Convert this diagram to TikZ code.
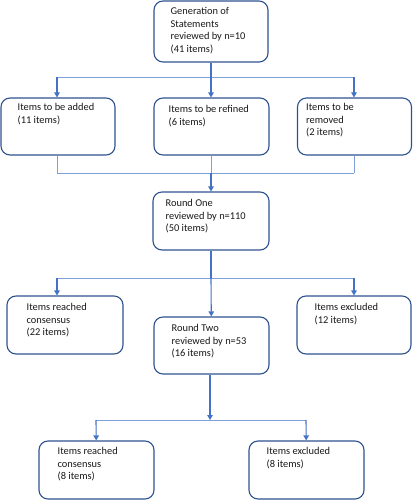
\documentclass[tikz,border=0pt]{standalone}
\usepackage{fontspec}
\setmainfont{Carlito}
\usetikzlibrary{arrows.meta,calc}
\definecolor{boxblue}{HTML}{2F528F}
\definecolor{arrblue}{HTML}{4472C4}
\definecolor{thinblue}{HTML}{7F9FD8}
\tikzset{
  box/.style={draw=boxblue, line width=1.1pt, rounded corners=9pt, fill=white, inner sep=0pt},
  txt/.style={anchor=north west, inner sep=0pt, align=left, font=\fontsize{10.4pt}{12.8pt}\selectfont, text=black!90},
  arr/.style={draw=arrblue, line width=1.1pt, -{Triangle[width=5.5pt,length=5pt]}},
  thick line/.style={draw=arrblue, line width=1.1pt},
  thin line/.style={draw=thinblue, line width=0.6pt}
}
\begin{document}
\begin{tikzpicture}[x=1pt,y=-1pt]
\useasboundingbox (0,0) rectangle (413,500);
% boxes
\node[box, minimum width=114pt, minimum height=61pt] (top) at (211,31.5) {};
\node[box, minimum width=114pt, minimum height=57pt] (b1) at (58,126.5) {};
\node[box, minimum width=115pt, minimum height=57pt] (b2) at (211.5,126.5) {};
\node[box, minimum width=114pt, minimum height=57pt] (b3) at (354.5,126.5) {};
\node[box, minimum width=116pt, minimum height=58pt] (r1) at (211,221) {};
\node[box, minimum width=116pt, minimum height=58pt] (c1) at (65,325) {};
\node[box, minimum width=115pt, minimum height=57pt] (r2) at (211.5,345.5) {};
\node[box, minimum width=114pt, minimum height=58pt] (e1) at (354,325) {};
\node[box, minimum width=115pt, minimum height=58pt] (c2) at (96.5,470) {};
\node[box, minimum width=115pt, minimum height=58pt] (e2) at (306.5,470) {};
% texts
\node[txt] (ttop) at ($(top.north west)+(17,6.5)$) {Generation of\\Statements\\reviewed by n=10\\(41 items)};
\node[txt] (tb1) at ($(b1.north west)+(17,5.5)$) {Items to be added\\(11 items)};
\node[txt] (tb2) at ($(b2.north west)+(15,7.5)$) {Items to be refined\\(6 items)};
\node[txt] (tb3) at ($(b3.north west)+(9,5.5)$) {Items to be\\removed\\(2 items)};
\node[txt] (tr1) at ($(r1.north west)+(13,7.5)$) {Round One\\reviewed by n=110\\(50 items)};
\node[txt] (tc1) at ($(c1.north west)+(20,7.5)$) {Items reached\\consensus\\(22 items)};
\node[txt] (tr2) at ($(r2.north west)+(18,7.5)$) {Round Two\\reviewed by n=53\\(16 items)};
\node[txt] (te1) at ($(e1.north west)+(18,7.5)$) {Items excluded\\(12 items)};
\node[txt] (tc2) at ($(c2.north west)+(19,6.5)$) {Items reached\\consensus\\(8 items)};
\node[txt] (te2) at ($(e2.north west)+(18,6.5)$) {Items excluded\\(8 items)};
% junctions
\coordinate (j1) at (211,77);
\coordinate (j1l) at (57,77);
\coordinate (j1r) at (354,77);
\coordinate (j2) at (211,173);
\coordinate (j2l) at (57,173);
\coordinate (j2r) at (354,173);
\coordinate (j3) at (211,278);
\coordinate (j3l) at (57,278);
\coordinate (j3r) at (354,278);
\coordinate (j4) at (210,420);
\coordinate (j4l) at (96,420);
\coordinate (j4r) at (306,420);
% connectors level 1
\draw[thick line] (top) -- (j1);
\draw[thin line] (j1l) -- (j1r);
\draw[arr] (j1l) -- (j1l |- b1.north);
\draw[arr] (j1) -- (j1 |- b2.north);
\draw[arr] (j1r) -- (j1r |- b3.north);
% level 2
\draw[thin line] (b1.south -| j2l) -- (j2l);
\draw[thin line] (b2.south -| j2) -- (j2);
\draw[thin line] (b3.south -| j2r) -- (j2r);
\draw[thin line] (j2l) -- (j2r);
\draw[arr] (j2) -- (r1);
% level 3
\draw[thick line] (r1) -- (j3);
\draw[thin line] (j3l) -- (j3r);
\draw[arr] (j3l) -- (j3l |- c1.north);
\draw[arr] (j3) -- (r2);
\draw[arr] (j3r) -- (j3r |- e1.north);
% level 4
\draw[arr] (r2.south -| j4) -- (j4);
\draw[thin line] (j4l) -- (j4r);
\draw[arr] (j4l) -- (c2);
\draw[arr] (j4r) -- (e2);
\end{tikzpicture}
\end{document}
